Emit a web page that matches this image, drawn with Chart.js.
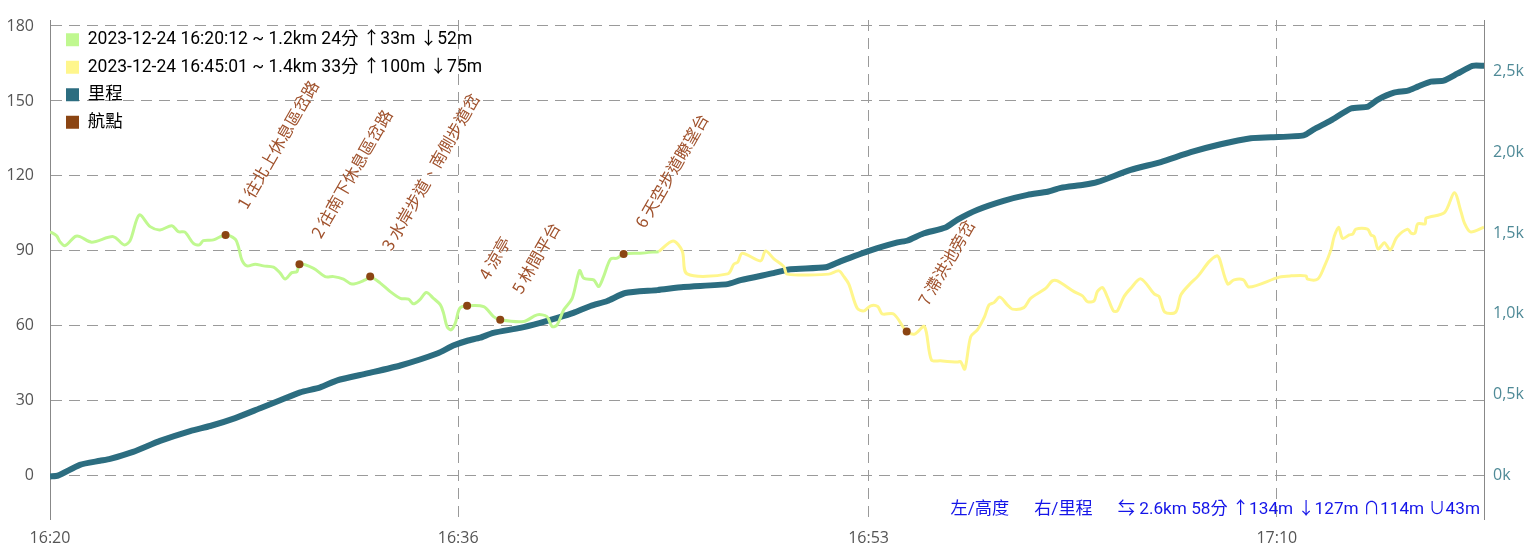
<!DOCTYPE html>
<html>
<head>
<meta charset="utf-8">
<script src="https://cdn.jsdelivr.net/npm/chart.js@4"></script>
<style>
html,body{margin:0;padding:0;background:#fff;}
#wrap{width:1534px;height:546px;position:relative;}
</style>
</head>
<body>
<div id="wrap"><canvas id="c"></canvas></div>
<script>
// ---- data (x = minutes after 16:20:12) ----
const xTickVals = [0, 16.51, 33.11, 49.62];
const xTickLabels = ["16:20", "16:36", "16:53", "17:10"];
const elevTickVals = [0, 30, 60, 90, 120, 150, 180];
const distTickVals = [0, 500, 1000, 1500, 2000, 2500];
const distTickLabels = ["0k", "0,5k", "1,0k", "1,5k", "2,0k", "2,5k"];

const seriesNames = [
  "2023-12-24 16:20:12 ~ 1.2km 24分 ↑33m ↓52m",
  "2023-12-24 16:45:01 ~ 1.4km 33分 ↑100m ↓75m",
  "里程",
  "航點"
];

const greenT = [0,0.27,0.40,0.61,1.01,1.21,1.69,2.56,3.00,3.24,3.61,4.05,4.45,4.93,5.19,5.46,5.80,6.04,6.20,6.61,7.10,7.49,7.62,7.76,7.96,8.30,8.63,9.04,9.31,9.51,9.78,9.99,10.09,10.66,11.13,11.47,11.87,12.21,12.75,12.95,13.36,13.76,14.17,14.50,14.70,14.95,15.22,15.51,15.79,15.92,16.06,16.22,16.39,16.57,16.87,17.54,17.94,18.21,19.16,19.70,20.10,20.31,20.51,20.78,21.12,21.42,21.59,21.99,22.19,22.39,22.67,22.94,23.20,23.88,24.62];
const greenE = [97.7,96,93.7,92.1,95.7,95.7,93.5,95.7,92.4,94.1,104.4,99.7,98.4,100.1,97.7,97.5,93,92.4,94.1,94.4,96.4,94.7,91.7,86.4,84,84.7,84,83.5,81.1,78.7,81.3,81.7,84.7,83,79.7,79.7,78.7,76.7,78.4,79.7,77.1,73.7,71,70.7,68.8,70.4,73.3,71,68.4,65,59.7,58.4,61,67,68,67.7,63.7,62.4,61.7,64.4,63.7,59.7,60.4,66.4,71,82.1,79,78.4,75.7,79.7,86.7,87.1,88.8,89.1,89.7];

const yellowT = [24.62,25.20,25.57,25.77,27.41,27.66,27.82,28.00,28.74,28.94,29.28,29.68,29.82,31.50,31.91,32.11,32.31,32.65,32.92,33.19,33.48,33.66,34.13,34.65,34.97,35.37,35.65,36.02,36.70,36.83,37.00,37.24,37.51,37.80,37.98,38.18,38.42,38.72,38.92,39.39,39.66,40.27,40.54,40.75,41.42,41.76,41.96,42.23,42.36,42.57,42.77,43.01,43.17,43.44,43.71,44.12,44.66,44.86,45.09,45.53,45.74,46.07,46.44,46.88,47.19,47.29,47.63,47.89,48.27,48.50,49.72,50.19,50.80,50.86,51.27,51.54,51.81,51.94,52.12,52.28,52.55,52.69,52.82,53.29,53.43,53.56,53.72,53.97,54.21,54.48,54.91,55.05,55.21,55.32,55.62,55.66,56.40,56.80,57.07,57.21,57.45,58.00];
const yellowE = [89.7,94,90,80.8,80.8,84.7,85.5,89.1,86,90,86.8,83.7,80.7,80.7,82,79.7,76.7,67,66,68,67.7,64.8,64.7,57.7,56.7,59.7,46.4,46,45.5,45.7,42.7,55.7,58.4,63.7,68.4,69.3,71.5,68.4,66.7,67.3,71,75,78,78,73.7,72,69.7,70,73.7,75.3,71.5,66,66,71.7,75,78.8,72.8,71.7,65.5,65.5,72.4,76.4,80,85.7,88,87.1,76.8,78.4,78.4,75.5,79.5,80,80,78.7,78.7,83.7,90.4,95.7,99.5,95,96.4,96.7,98.7,98.7,96.4,95.7,90.7,93.3,90.4,95.5,98.7,97.1,97.1,100.8,100.8,103.1,105.3,113.3,105.7,101.1,97.6,99.5];

const distT = [0,0.32,1.21,2.02,2.43,3.36,4.45,5.67,6.48,7.49,8.50,9.31,10.12,10.93,11.62,12.83,14.17,15.66,16.31,16.88,17.40,17.93,19.02,19.83,20.52,21.17,21.86,22.54,23.27,24.57,25.62,27.40,27.93,29.26,29.95,31.37,31.97,33.19,34.28,34.69,35.33,36.22,36.71,37.52,38.57,39.54,40.35,40.88,41.81,42.38,43.71,44.93,46.14,47.35,48.57,49.38,50.71,51.12,51.81,52.62,53.31,53.71,54.36,54.92,55.32,55.85,56.37,56.92,57.53,58.00];
const distM = [-5,0,67,92,104,147,215,276,307,356,417,466,515,546,589,632,681,755,804,834,853,883,914,945,975,1006,1049,1080,1129,1147,1166,1184,1209,1252,1276,1288,1325,1393,1442,1454,1497,1534,1583,1644,1699,1736,1755,1779,1798,1816,1890,1939,2000,2049,2086,2092,2104,2141,2196,2270,2282,2325,2368,2380,2405,2436,2442,2485,2534,2534];

const wpT = [7.10, 10.09, 12.95, 16.87, 18.21, 23.20, 34.65];
const wpE = [96.4, 84.7, 79.7, 68, 62.4, 88.8, 57.7];
const wpNames = ["往北上休息區岔路", "往南下休息區岔路", "水岸步道、南側步道岔", "涼亭", "林間平台", "天空步道瞭望台", "滯洪池旁岔"];

const footerParts = ["左/高度", "右/里程", "⇆ 2.6km 58分 ↑134m ↓127m ∩114m ∪43m"];

// ---- styles ----
const GREEN = "#c0f890";
const YELLOW = "#fff68c";
const TEAL = "#2c6d80";
const BROWN = "#8b4513";
const GRID = "#9a9a9a";
const AXIS = "#888";

function pts(xs, ys) { return xs.map((x, i) => ({x: x, y: ys[i]})); }
function noPad(s) { s.paddingTop = 0; s.paddingBottom = 0; s.paddingLeft = 0; s.paddingRight = 0; }

const wpLabelPlugin = {
  id: "wpLabels",
  afterDatasetsDraw(chart) {
    const ctx = chart.ctx, xs = chart.scales.x, ys = chart.scales.y;
    ctx.save();
    ctx.font = "16.5px 'Noto Sans CJK TC', 'Noto Sans', sans-serif";
    ctx.fillStyle = "#a0522d";
    ctx.textAlign = "left";
    ctx.textBaseline = "middle";
    wpT.forEach((t, i) => {
      const px = xs.getPixelForValue(t), py = ys.getPixelForValue(wpE[i]);
      ctx.save();
      ctx.translate(px, py);
      ctx.rotate(-Math.PI / 3);
      ctx.fillText((i + 1) + " " + wpNames[i], 32, 0);
      ctx.restore();
    });
    ctx.restore();
  }
};

const footerPlugin = {
  id: "footer",
  afterDraw(chart) {
    const ctx = chart.ctx, a = chart.chartArea;
    ctx.save();
    ctx.font = "17.2px Roboto, 'Noto Sans CJK TC', sans-serif";
    ctx.fillStyle = "#1515e8";
    ctx.textAlign = "right";
    ctx.textBaseline = "middle";
    let x = a.right - 4;
    const y = a.bottom - 9;
    for (let i = footerParts.length - 1; i >= 0; i--) {
      ctx.fillText(footerParts[i], x, y);
      x -= ctx.measureText(footerParts[i]).width + 25;
    }
    ctx.restore();
  }
};

const legendShift = {
  id: "legendShift",
  afterLayout(chart) {
    if (chart.legend) {
      chart.legend.left = chart.chartArea.left + 6;
      chart.legend.top = chart.chartArea.top + 1;
    }
  }
};

const colors = [GREEN, YELLOW, TEAL, BROWN];

new Chart(document.getElementById("c"), {
  type: "line",
  data: {
    datasets: [
      {label: seriesNames[0], data: pts(greenT, greenE), yAxisID: "y", borderColor: GREEN, backgroundColor: GREEN, borderWidth: 3, pointRadius: 0, tension: 0.3, order: 1},
      {label: seriesNames[1], data: pts(yellowT, yellowE), yAxisID: "y", borderColor: YELLOW, backgroundColor: YELLOW, borderWidth: 3, pointRadius: 0, tension: 0.3, order: 1},
      {label: seriesNames[2], data: pts(distT, distM), yAxisID: "y2", borderColor: TEAL, backgroundColor: TEAL, borderWidth: 6, pointRadius: 0, tension: 0.2, order: 2},
      {label: seriesNames[3], data: pts(wpT, wpE), yAxisID: "y", showLine: false, borderColor: BROWN, backgroundColor: BROWN, pointRadius: 4, pointBorderWidth: 0, order: 0}
    ]
  },
  options: {
    responsive: true,
    maintainAspectRatio: false,
    animation: false,
    events: [],
    layout: {padding: {top: 20, left: 0, right: 0, bottom: 0}},
    plugins: {
      tooltip: {enabled: false},
      legend: {
        position: "chartArea",
        align: "start",
        labels: {
          boxWidth: 13, boxHeight: 13, padding: 10,
          color: "#111",
          font: {family: "Roboto, 'Noto Sans CJK TC', sans-serif", size: 17.5},
          generateLabels(chart) {
            return chart.data.datasets.map((d, i) => ({
              text: d.label, fillStyle: colors[i], strokeStyle: colors[i], lineWidth: 0, hidden: false, datasetIndex: i
            }));
          }
        }
      }
    },
    scales: {
      x: {
        type: "linear", min: 0, max: 58,
        afterBuildTicks(s) { s.ticks = xTickVals.map(v => ({value: v})); },
        afterFit(s) { s.height = 27; noPad(s); },
        ticks: {
          callback(v, i) { return xTickLabels[i]; },
          color: "#555", padding: 10, maxRotation: 0,
          font: {family: "'Open Sans', sans-serif", size: 16}
        },
        grid: {display: true, color: GRID, drawTicks: false, tickLength: 0},
        border: {display: false, dash: [11, 7]}
      },
      y: {
        position: "left", min: -17.3, max: 182.4,
        afterBuildTicks(s) { s.ticks = elevTickVals.map(v => ({value: v})); },
        afterFit(s) { s.width = 50; noPad(s); },
        ticks: {color: "#555", padding: 16, font: {family: "'Open Sans', sans-serif", size: 16}},
        grid: {color: GRID, drawTicks: false, tickLength: 0},
        border: {display: true, color: AXIS, width: 1, dash: [11, 7]}
      },
      y2: {
        position: "right", min: -268, max: 2817,
        afterBuildTicks(s) { s.ticks = distTickVals.map(v => ({value: v})); },
        afterFit(s) { s.width = 50; noPad(s); },
        ticks: {
          callback(v, i) { return distTickLabels[i]; },
          color: "#4f8a97", padding: 9, font: {family: "'Open Sans', sans-serif", size: 16}
        },
        grid: {display: false, drawTicks: false, tickLength: 0},
        border: {display: true, color: AXIS, width: 1}
      }
    }
  },
  plugins: [legendShift, wpLabelPlugin, footerPlugin]
});
</script>
</body>
</html>
